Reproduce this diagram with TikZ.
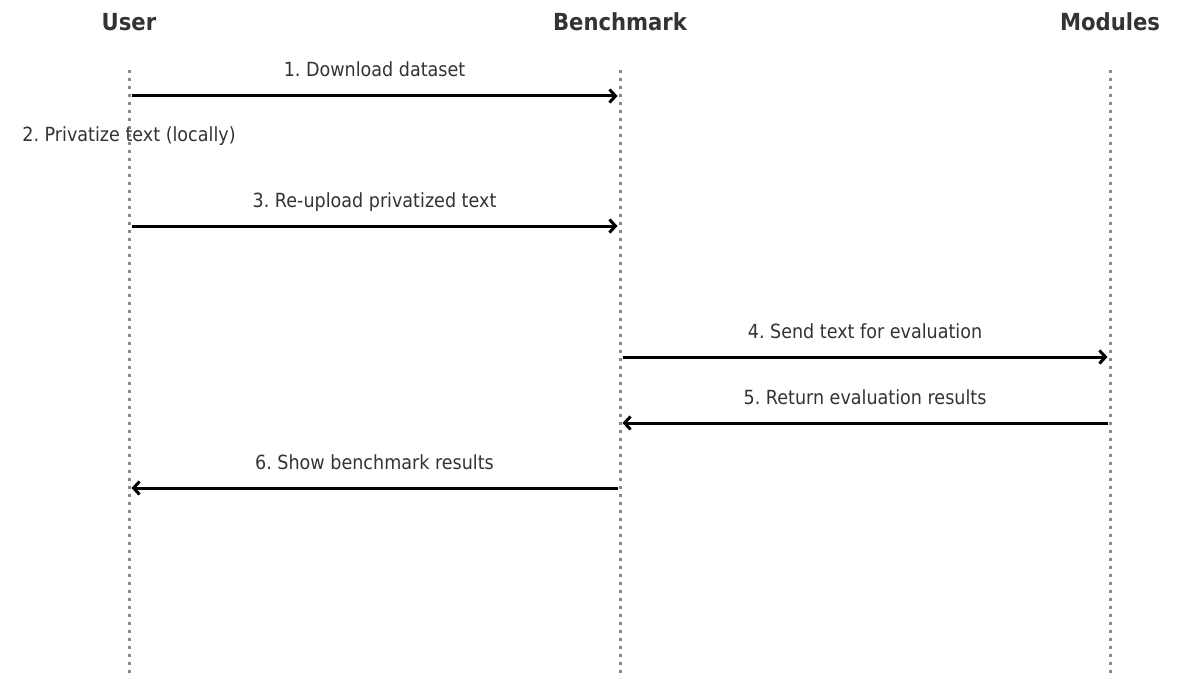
\documentclass[tikz,border=0pt]{standalone}
\usepackage{fontspec}
\setmainfont{DejaVu Sans}[FakeStretch=0.9]
\usetikzlibrary{arrows.meta,positioning,calc}
\usepackage{xcolor}
\definecolor{inkgray}{HTML}{333333}
\definecolor{linegray}{HTML}{888888}
\frenchspacing

\begin{document}
\begin{tikzpicture}[x=1pt, y=-1pt,
  actor/.style={font=\fontsize{23.5}{26}\selectfont\bfseries, inkgray, anchor=base},
  lifeline/.style={linegray, line width=3pt, dash pattern=on 3pt off 5pt},
  msg/.style={black, line width=3pt, shorten <=2.5pt, shorten >=2.5pt,
    -{Straight Barb[length=6pt, width=13pt]}},
  msglabel/.style={font=\fontsize{19.5}{22}\selectfont, inkgray, anchor=base, yshift=19pt}]
  \useasboundingbox (0,0) rectangle (1183,682);
  % lifelines with their headers
  \foreach \name/\xx/\title in {user/129/User, bench/620/Benchmark, mods/1110/Modules} {
    \node[actor] (\name) at (\xx,31) {\title};
    \coordinate (\name-top) at (\xx,70);
    \coordinate (\name-bot) at (\xx,678);
    \draw[lifeline] (\name-top) -- (\name-bot);
    % message rows
    \foreach \row/\yy in {1/96, 3/226, 4/357, 5/423, 6/488}
      \coordinate (\name-\row) at (\xx,\yy);
  }
  \draw[msg] (user-1) -- node[msglabel] {1. Download dataset} (bench-1);
  \node[font=\fontsize{19.5}{22}\selectfont, inkgray, anchor=base] (step2) at (129,142) {2. Privatize text (locally)};
  \draw[msg] (user-3) -- node[msglabel] {3. Re-upload privatized text} (bench-3);
  \draw[msg] (bench-4) -- node[msglabel] {4. Send text for evaluation} (mods-4);
  \draw[msg] (mods-5) -- node[msglabel] {5. Return evaluation results} (bench-5);
  \draw[msg] (bench-6) -- node[msglabel] {6. Show benchmark results} (user-6);
\end{tikzpicture}
\end{document}
